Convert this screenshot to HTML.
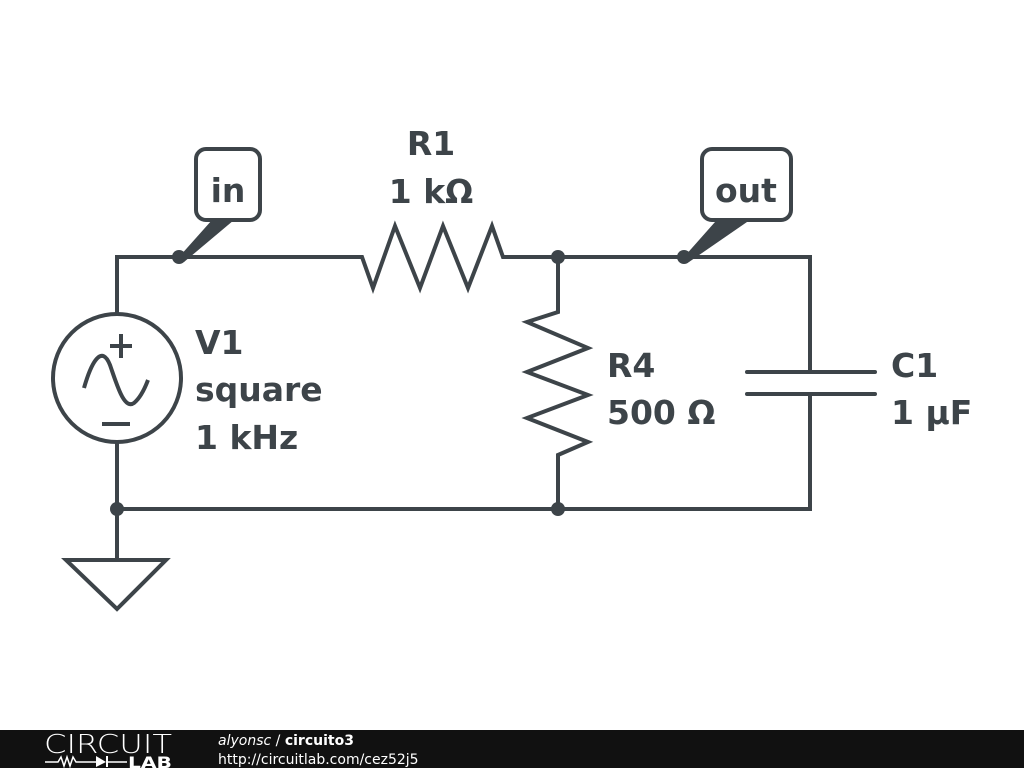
<!DOCTYPE html>
<html><head><meta charset="utf-8"><style>
html,body{margin:0;padding:0;background:#fff;}
svg{display:block}
</style></head><body>
<svg width="1024" height="768" viewBox="0 0 1024 768" xmlns="http://www.w3.org/2000/svg">
<g fill="none" stroke="#3d4449" stroke-width="4" stroke-linejoin="miter" stroke-linecap="butt">
<polyline points="117,314 117,257 362,257 373,288 395,226 420,288 443,226 468,288 492,226 503,257 810,257 810,372"/>
<polyline points="558,257 558,312 527,322 588,348 527,372 588,395 527,418 588,442 558,455 558,509"/>
<polyline points="117,442 117,509 810,509 810,394"/>
<line x1="747" y1="372" x2="875" y2="372" stroke-linecap="round"/>
<line x1="747" y1="394" x2="875" y2="394" stroke-linecap="round"/>
<circle cx="117" cy="378" r="64"/>
<line x1="117" y1="509" x2="117" y2="560"/>
<polygon points="66,560 166,560 117,609"/>
<line x1="110" y1="346" x2="132" y2="346"/><line x1="121" y1="334" x2="121" y2="358"/>
<line x1="102" y1="424" x2="130" y2="424"/>
<path d="M84,388 C92,360 102,345 110,365 C117,385 124,410 134,403 C140,398 145,388 148,380"/>
<rect x="196" y="149" width="64" height="71" rx="10"/>
<rect x="702" y="149" width="89" height="71" rx="10"/>
</g>
<g fill="#3d4449">
<polygon points="179,257 212,220 234,220 184,262"/>
<polygon points="684,257 715,222 747,222 689,262"/>
<circle cx="179" cy="257" r="7"/>
<circle cx="558" cy="257" r="7"/>
<circle cx="684" cy="257" r="7"/>
<circle cx="117" cy="509" r="7"/>
<circle cx="558" cy="509" r="7"/>
</g>
<g fill="#3d4449" font-family="DejaVu Sans, sans-serif" font-weight="bold" font-size="33">
<text x="228" y="202" text-anchor="middle">in</text>
<text x="746" y="202" text-anchor="middle">out</text>
<text x="431" y="155" text-anchor="middle">R1</text>
<text x="431" y="203" text-anchor="middle">1 kΩ</text>
<text x="195" y="354">V1</text>
<text x="195" y="401">square</text>
<text x="195" y="449">1 kHz</text>
<text x="607" y="377">R4</text>
<text x="607" y="424">500 Ω</text>
<text x="891" y="377">C1</text>
<text x="891" y="424">1 µF</text>
</g>
<rect x="0" y="730" width="1024" height="38" fill="#111"/>
<text x="44" y="753" fill="#fff" font-family="DejaVu Sans, sans-serif" font-weight="200" font-size="26" textLength="128" lengthAdjust="spacingAndGlyphs">CIRCUIT</text>
<polyline points="45,762 58,762 61,757 64,766 67,757 70,766 73,757 76,762 96,762" fill="none" stroke="#fff" stroke-width="1.5"/>
<polygon points="96,756 96,767 106,762" fill="#fff"/>
<line x1="107" y1="756" x2="107" y2="767" stroke="#fff" stroke-width="2"/>
<line x1="107" y1="762" x2="127" y2="762" stroke="#fff" stroke-width="1.5"/>
<text x="128" y="768" fill="#fff" font-family="DejaVu Sans, sans-serif" font-weight="bold" font-size="16" textLength="44" lengthAdjust="spacingAndGlyphs">LAB</text>
<text x="218" y="745" fill="#fff" font-family="DejaVu Sans, sans-serif" font-size="14"><tspan font-style="italic">alyonsc</tspan> / <tspan font-weight="bold">circuito3</tspan></text>
<text x="218" y="764" fill="#fff" font-family="DejaVu Sans, sans-serif" font-size="14">http://circuitlab.com/cez52j5</text>
</svg>
</body></html>
